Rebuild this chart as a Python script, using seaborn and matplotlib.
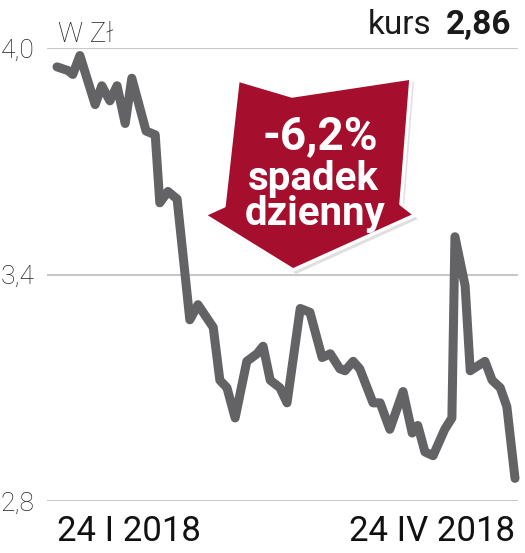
import numpy as np
import matplotlib
matplotlib.use("Agg")
import matplotlib.pyplot as plt
import seaborn as sns
from matplotlib.patches import Polygon

# --- dane ---
# dni od 24 I 2018
dni = [0, 2.2, 3.1, 4.5, 7.5, 8.8, 10.4, 11.8, 13.4, 14.7, 17.5, 19.3, 20.2,
       21.8, 23.6, 26.1, 27.7, 30.7, 32.0, 33.4, 35.0, 37.3, 39.3, 40.5,
       41.9, 43.8, 45.2, 47.8, 49.7, 52.1, 53.7, 55.6, 56.6, 58.2, 59.5,
       62.1, 63.5, 65.4, 68.0, 69.8, 70.9, 72.3, 73.9, 76.2, 77.6, 78.2,
       80.2, 81.2, 84.1, 85.5, 87.1, 88.4, 90]
kurs = [3.95, 3.94, 3.93, 3.98, 3.85, 3.90, 3.86, 3.90, 3.80, 3.92, 3.78,
        3.77, 3.59, 3.62, 3.60, 3.28, 3.32, 3.26, 3.12, 3.10, 3.02, 3.17,
        3.19, 3.21, 3.12, 3.10, 3.06, 3.31, 3.30, 3.18, 3.19, 3.15, 3.145,
        3.17, 3.15, 3.06, 3.06, 2.99, 3.09, 2.98, 3.00, 2.93, 2.92, 2.99,
        3.02, 3.50, 3.37, 3.145, 3.17, 3.12, 3.10, 3.05, 2.86]

y_ticks = [2.8, 3.4, 4.0]
y_labels = ["2,8", "3,4", "4,0"]
x_ticks = [0, 90]
x_labels = ["24 I 2018", "24 IV 2018"]

W, H = 525, 553
sns.set_style("white")
plt.rcParams['font.family'] = ['Roboto', 'DejaVu Sans']

fig = plt.figure(figsize=(W / 100, H / 100), dpi=100)

def fx(x):
    return x / W

def fy(y):
    return 1 - y / H

# axes: x 47..518 px, y 48 (4.0) .. 501 (2.8)
ax = fig.add_axes([fx(47), fy(501), fx(518) - fx(47), fy(48) - fy(501)])
px_per_day = (515 - 57) / 90
ax.set_xlim(-10 / px_per_day, 461 / px_per_day)
ax.set_ylim(2.8, 4.0)

sns.lineplot(x=dni, y=kurs, ax=ax, color="#636365", linewidth=6.5,
             solid_joinstyle="round", solid_capstyle="round", clip_on=False,
             zorder=3)

ax.set_yticks(y_ticks, y_labels)
ax.set_xticks(x_ticks, x_labels)
ax.grid(axis="y", color="#c8c8c8", linewidth=1.5)
ax.grid(axis="x", visible=False)
for s in ax.spines.values():
    s.set_visible(False)
ax.tick_params(axis="y", length=0, pad=9, labelsize=19, labelcolor="#222222")
ax.tick_params(axis="x", length=0, pad=10, labelsize=25, labelcolor="#111111")
xl = ax.get_xticklabels()
xl[0].set_ha("left")
xl[1].set_ha("right")
for t in ax.get_yticklabels():
    t.set_fontweight("light")
ax.set_xlabel("")
ax.set_ylabel("")

# jednostka i kurs
fig.text(fx(58), fy(42), "W Zł", fontsize=20, fontweight="light",
         color="#222222", va="baseline", ha="left")
fig.text(fx(511), fy(34), "2,86", fontsize=24, fontweight="bold",
         color="#1a1a1a", va="baseline", ha="right")
fig.text(fx(431), fy(34), "kurs", fontsize=24, color="#1a1a1a",
         va="baseline", ha="right")

# strzałka
arrow_px = [(238, 80), (292, 96), (411, 78), (401, 204), (415, 215),
            (293, 270), (204, 215), (224, 206)]
shadow = Polygon([(fx(x + 3), fy(y + 4)) for x, y in arrow_px], closed=True,
                 transform=fig.transFigure, facecolor="#000000", alpha=0.12,
                 edgecolor="none", zorder=4)
arrow = Polygon([(fx(x), fy(y)) for x, y in arrow_px], closed=True,
                transform=fig.transFigure, facecolor="#a50f2d",
                edgecolor="white", linewidth=2.5, joinstyle="round", zorder=5)
fig.patches.extend([shadow, arrow])

fig.text(fx(320), fy(149), "-6,2%", fontsize=33, fontweight="bold",
         color="white", ha="center", va="baseline", zorder=6)
fig.text(fx(313), fy(190), "spadek", fontsize=29, fontweight="bold",
         color="white", ha="center", va="baseline", zorder=6)
fig.text(fx(315), fy(225), "dzienny", fontsize=29, fontweight="bold",
         color="white", ha="center", va="baseline", zorder=6)

fig.savefig("out.png", dpi=100)
